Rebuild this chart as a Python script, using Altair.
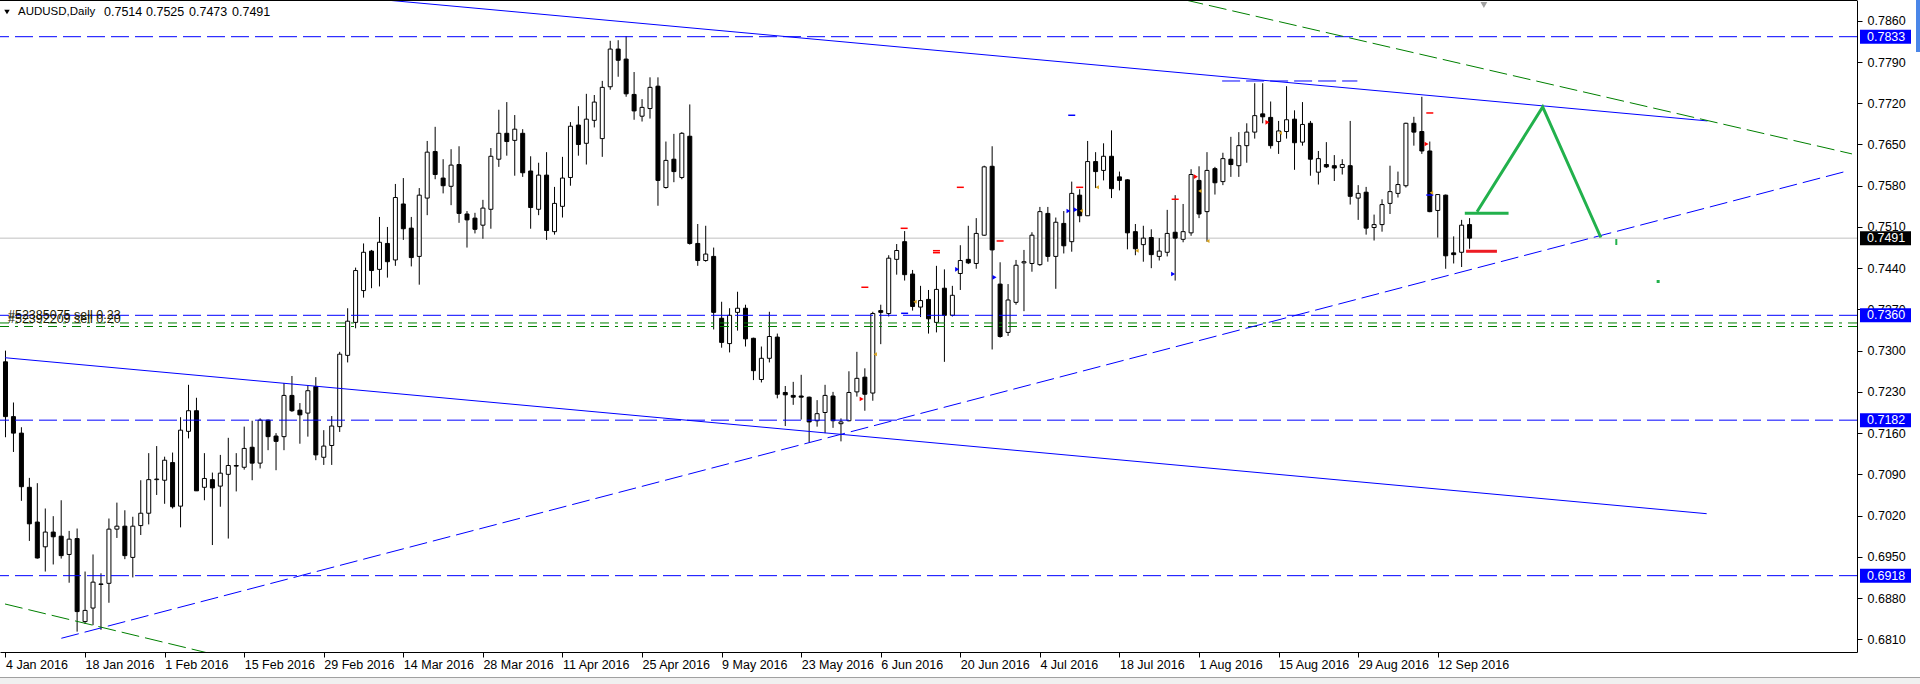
import altair as alt
import pandas as pd

# ---------------- data ----------------
opens = [0.7281,0.7188,0.7160,0.7068,0.7009,0.6967,0.6992,0.6985,0.6954,0.6981,
         0.6840,0.6863,0.6903,0.6905,0.6997,0.7002,0.6949,0.7003,0.7024,0.7081,
         0.7080,0.7110,0.7036,0.7163,0.7198,0.7068,0.7081,0.7070,0.7090,0.7105,
         0.7102,0.7136,0.7109,0.7182,0.7155,0.7154,0.7224,0.7199,0.7194,0.7239,
         0.7119,0.7139,0.7171,0.7292,0.7348,0.7402,0.7469,0.7438,0.7482,0.7454,
         0.7549,0.7508,0.7460,0.7559,0.7638,0.7593,0.7579,0.7616,0.7532,0.7525,
         0.7513,0.7540,0.7625,0.7669,0.7657,0.7669,0.7605,0.7540,0.7598,0.7502,
         0.7545,0.7594,0.7683,0.7652,0.7691,0.7660,0.7748,0.7812,0.7795,0.7735,
         0.7698,0.7711,0.7749,0.7577,0.7625,0.7594,0.7664,0.7482,0.7453,0.7460,
         0.7355,0.7312,0.7365,0.7372,0.7321,0.7251,0.7287,0.7323,0.7229,0.7224,
         0.7223,0.7221,0.7181,0.7195,0.7223,0.7176,0.7181,0.7230,0.7255,0.7228,
         0.7368,0.7363,0.7455,0.7485,0.7430,0.7374,0.7387,0.7348,0.7406,0.7360,
         0.7431,0.7455,0.7448,0.7496,0.7613,0.7413,0.7331,0.7382,0.7449,0.7448,
         0.7446,0.7533,0.7460,0.7516,0.7485,0.7564,0.7529,0.7621,0.7606,0.7630,
         0.7595,0.7590,0.7502,0.7480,0.7492,0.7460,0.7467,0.7501,0.7489,0.7500,
         0.7589,0.7536,0.7609,0.7587,0.7625,0.7614,0.7648,0.7671,0.7702,0.7696,
         0.7655,0.7672,0.7693,0.7654,0.7686,0.7603,0.7616,0.7614,0.7611,0.7614,
         0.7559,0.7569,0.7509,0.7514,0.7550,0.7567,0.7580,0.7686,0.7672,0.7639,
         0.7538,0.7564,0.7466,0.7467,0.7514]
highs = [0.7300,0.7212,0.7170,0.7084,0.7075,0.7032,0.7019,0.7046,0.6994,0.6998,
         0.6925,0.6954,0.6922,0.7015,0.7042,0.7029,0.7018,0.7080,0.7126,0.7138,
         0.7120,0.7127,0.7187,0.7242,0.7220,0.7126,0.7093,0.7123,0.7152,0.7126,
         0.7171,0.7181,0.7185,0.7183,0.7160,0.7245,0.7257,0.7211,0.7241,0.7255,
         0.7165,0.7189,0.7298,0.7372,0.7441,0.7482,0.7471,0.7527,0.7510,0.7583,
         0.7593,0.7527,0.7576,0.7656,0.7680,0.7625,0.7642,0.7647,0.7537,0.7534,
         0.7556,0.7644,0.7709,0.7722,0.7700,0.7676,0.7630,0.7619,0.7637,0.7578,
         0.7629,0.7688,0.7715,0.7736,0.7734,0.7758,0.7826,0.7827,0.7834,0.7773,
         0.7727,0.7764,0.7764,0.7655,0.7668,0.7671,0.7718,0.7515,0.7512,0.7475,
         0.7383,0.7372,0.7400,0.7378,0.7322,0.7307,0.7366,0.7329,0.7240,0.7247,
         0.7259,0.7222,0.7216,0.7242,0.7230,0.7185,0.7265,0.7298,0.7270,0.7366,
         0.7378,0.7462,0.7481,0.7503,0.7437,0.7410,0.7403,0.7444,0.7438,0.7410,
         0.7479,0.7512,0.7525,0.7614,0.7647,0.7450,0.7413,0.7454,0.7471,0.7501,
         0.7544,0.7544,0.7526,0.7537,0.7587,0.7574,0.7656,0.7637,0.7652,0.7674,
         0.7604,0.7591,0.7515,0.7512,0.7506,0.7491,0.7539,0.7564,0.7549,0.7608,
         0.7613,0.7637,0.7612,0.7636,0.7663,0.7671,0.7686,0.7754,0.7754,0.7723,
         0.7690,0.7749,0.7708,0.7722,0.7690,0.7639,0.7654,0.7632,0.7625,0.7690,
         0.7581,0.7578,0.7531,0.7557,0.7614,0.7604,0.7687,0.7697,0.7731,0.7655,
         0.7565,0.7565,0.7494,0.7522,0.7525]
lows = [0.7153,0.7128,0.7045,0.6977,0.6947,0.6925,0.6937,0.6947,0.6906,0.6823,
        0.6836,0.6834,0.6826,0.6872,0.6982,0.6946,0.6915,0.6987,0.7005,0.7055,
        0.7040,0.7032,0.7000,0.7151,0.7062,0.7046,0.6970,0.7035,0.6981,0.7061,
        0.7098,0.7080,0.7100,0.7131,0.7097,0.7131,0.7196,0.7142,0.7154,0.7114,
        0.7106,0.7106,0.7162,0.7280,0.7338,0.7390,0.7406,0.7409,0.7424,0.7444,
        0.7488,0.7443,0.7412,0.7530,0.7591,0.7567,0.7547,0.7517,0.7475,0.7499,
        0.7490,0.7507,0.7612,0.7631,0.7597,0.7595,0.7507,0.7530,0.7488,0.7497,
        0.7526,0.7580,0.7631,0.7616,0.7679,0.7629,0.7743,0.7765,0.7731,0.7692,
        0.7689,0.7694,0.7546,0.7575,0.7586,0.7591,0.7480,0.7444,0.7451,0.7336,
        0.7305,0.7297,0.7334,0.7307,0.7250,0.7246,0.7280,0.7219,0.7172,0.7208,
        0.7183,0.7144,0.7171,0.7160,0.7169,0.7146,0.7180,0.7222,0.7198,0.7215,
        0.7311,0.7358,0.7429,0.7419,0.7368,0.7357,0.7329,0.7331,0.7281,0.7358,
        0.7403,0.7447,0.7439,0.7495,0.7302,0.7322,0.7325,0.7378,0.7367,0.7434,
        0.7444,0.7451,0.7405,0.7465,0.7468,0.7518,0.7529,0.7576,0.7589,0.7559,
        0.7572,0.7472,0.7462,0.7451,0.7440,0.7453,0.7460,0.7419,0.7484,0.7495,
        0.7525,0.7485,0.7565,0.7581,0.7595,0.7595,0.7619,0.7660,0.7686,0.7643,
        0.7634,0.7660,0.7607,0.7648,0.7597,0.7582,0.7610,0.7588,0.7599,0.7548,
        0.7522,0.7497,0.7487,0.7502,0.7532,0.7560,0.7577,0.7648,0.7634,0.7535,
        0.7492,0.7439,0.7448,0.7442,0.7473]
closes = [0.7188,0.7160,0.7069,0.7006,0.6948,0.6992,0.6984,0.6952,0.6980,0.6857,
          0.6859,0.6907,0.6904,0.6997,0.7002,0.6952,0.7002,0.7024,0.7081,0.7082,
          0.7114,0.7035,0.7165,0.7198,0.7062,0.7083,0.7067,0.7092,0.7105,0.7104,
          0.7134,0.7109,0.7182,0.7154,0.7146,0.7224,0.7198,0.7191,0.7232,0.7123,
          0.7138,0.7172,0.7294,0.7350,0.7436,0.7467,0.7436,0.7484,0.7451,0.7560,
          0.7507,0.7458,0.7564,0.7637,0.7599,0.7580,0.7615,0.7533,0.7522,0.7506,
          0.7542,0.7630,0.7669,0.7655,0.7676,0.7602,0.7543,0.7598,0.7504,0.7550,
          0.7593,0.7681,0.7650,0.7693,0.7722,0.7747,0.7812,0.7793,0.7736,0.7707,
          0.7713,0.7747,0.7589,0.7623,0.7604,0.7669,0.7482,0.7453,0.7464,0.7365,
          0.7314,0.7360,0.7372,0.7320,0.7266,0.7287,0.7324,0.7226,0.7225,0.7221,
          0.7221,0.7179,0.7193,0.7224,0.7181,0.7179,0.7229,0.7253,0.7226,0.7363,
          0.7365,0.7457,0.7470,0.7429,0.7375,0.7385,0.7354,0.7404,0.7360,0.7394,
          0.7453,0.7449,0.7499,0.7612,0.7471,0.7324,0.7386,0.7445,0.7451,0.7496,
          0.7536,0.7460,0.7518,0.7478,0.7567,0.7529,0.7621,0.7604,0.7630,0.7575,
          0.7589,0.7500,0.7473,0.7491,0.7463,0.7469,0.7499,0.7491,0.7502,0.7599,
          0.7532,0.7606,0.7585,0.7626,0.7616,0.7648,0.7671,0.7699,0.7697,0.7648,
          0.7673,0.7692,0.7653,0.7684,0.7625,0.7626,0.7612,0.7610,0.7616,0.7562,
          0.7567,0.7508,0.7514,0.7548,0.7570,0.7582,0.7686,0.7671,0.7639,0.7536,
          0.7565,0.7461,0.7463,0.7513,0.7491]

tick_bars = list(range(0, 181, 10))
tick_labels = ["4 Jan 2016", "18 Jan 2016", "1 Feb 2016", "15 Feb 2016", "29 Feb 2016",
               "14 Mar 2016", "28 Mar 2016", "11 Apr 2016", "25 Apr 2016", "9 May 2016",
               "23 May 2016", "6 Jun 2016", "20 Jun 2016", "4 Jul 2016", "18 Jul 2016",
               "1 Aug 2016", "15 Aug 2016", "29 Aug 2016", "12 Sep 2016"]
price_ticks = [0.6810, 0.6880, 0.6950, 0.7020, 0.7090, 0.7160, 0.7230, 0.7300,
               0.7370, 0.7440, 0.7510, 0.7580, 0.7650, 0.7720, 0.7790, 0.7860]

level_prices = [0.7833, 0.7360, 0.7182, 0.6918]
bid_price = 0.7491
order_prices = [0.7347, 0.7341]
order_texts = ["#52385075 sell 0.23", "#52392209 sell 0.20"]
header_symbol = "AUDUSD,Daily"
header_values = [0.7514, 0.7525, 0.7473, 0.7491]

# trend lines: (bar, price) end points
upper_line_bars, upper_line_prices = [47.8, 213.9], [0.78953, 0.76900]
lower_line_bars, lower_line_prices = [-0.0625, 213.8], [0.72880, 0.70232]
rise_line_bars, rise_line_prices = [7.02, 231.14], [0.68117, 0.76038]
green_top_bars, green_top_prices = [148.3, 232.06], [0.78953, 0.76340]
green_low_bars, green_low_prices = [-0.0625, 30.0], [0.68699, 0.67719]
short_dash_bars, short_dash_prices = [152.9, 169.9], [0.77578, 0.77578]
zigzag_bars, zigzag_prices = [184.94, 193.19, 200.5], [0.75359, 0.77137, 0.74921]
green_flat_bars, green_flat_prices = [183.4, 188.9], [0.75332, 0.75332]
red_flat_bars, red_flat_prices = [183.56, 187.44], [0.74687, 0.74687]
green_tick_bar, green_tick_prices = [202.44, 202.44], [0.74895, 0.74794]
green_dot_bar, green_dot_price = [207.7], [0.74174]
shift_bar = [185.8]

red_dash_bars = [120.0, 112.94, 125.0, 117.0, 117.0, 108.0, 135.0, 147.0, 179.0]
red_dash_prices = [0.75773, 0.75077, 0.74862, 0.74697, 0.74663, 0.74076, 0.75773, 0.75570, 0.77035]
blue_dash_bars = [113.0, 134.0, 179.0]
blue_dash_prices = [0.73634, 0.76996, 0.75642]
blue_arrow_bars = [124.3, 133.6, 134.5, 146.75, 119.6]
blue_arrow_prices = [0.74245, 0.75371, 0.75393, 0.74301, 0.74381]
red_arrow_bars = [149.6, 178.6, 158.6, 107.6]
red_arrow_prices = [0.75953, 0.76508, 0.76877, 0.72179]
gold_bars = [137.2, 135.2, 142.2, 151.1, 150.1, 160.2, 114.3, 109.3, 179.2]
gold_prices = [0.75773, 0.75376, 0.74697, 0.74862, 0.75710, 0.76695, 0.73831, 0.72938, 0.75680]

# ---------------- layout ----------------
W, H = 1857, 652
X0, X1 = -0.0625, 232.0625
Y0, Y1 = 0.67884, 0.78953
FONT = "Liberation Sans"
AXFS = 12.5
BLUE = "#0000FF"

xs = alt.Scale(domain=[X0, X1], nice=False, zero=False)
ys = alt.Scale(domain=[Y0, Y1], nice=False, zero=False)

label_js = "[" + ",".join("'" + s + "'" for s in tick_labels) + "]"
x_axis = alt.Axis(values=tick_bars, labelExpr=label_js + "[round(datum.value/10)]",
                  orient="bottom", tickSize=5, tickColor="black", domainColor="black",
                  labelColor="black", labelFont=FONT, labelFontSize=AXFS, labelAlign="left",
                  labelPadding=1, labelFlush=False, labelOverlap=False,
                  labelBound=False, grid=False, title=None)
y_axis = alt.Axis(values=price_ticks, format=".4f", orient="right", tickSize=5,
                  tickColor="black", domainColor="black", labelColor="black",
                  labelFont=FONT, labelFontSize=AXFS, labelPadding=5, labelOverlap=False,
                  labelFlush=False, grid=False, title=None)


def X(f):
    return alt.X(f, type="quantitative", scale=xs, axis=x_axis)


def Y(f):
    return alt.Y(f, type="quantitative", scale=ys, axis=y_axis)


def line_df(bars, prices):
    return pd.DataFrame({"bar": bars, "price": prices, "k": list(range(len(bars)))})


def line_layer(bars, prices, color, width=1, dash=None):
    kw = dict(color=color, strokeWidth=width, clip=True, strokeCap="butt")
    if dash:
        kw["strokeDash"] = dash
    return alt.Chart(line_df(bars, prices)).mark_line(**kw).encode(
        x=X("bar"), y=Y("price"), order="k:Q")


candles = pd.DataFrame({"i": list(range(len(opens))), "o": opens, "h": highs,
                        "l": lows, "c": closes})

bid_layer = alt.Chart(pd.DataFrame({"p": [bid_price]})).mark_rule(
    color="#C0C0C0", strokeWidth=1).encode(y=Y("p"))

wicks = alt.Chart(candles).mark_rule(color="black", strokeWidth=1).encode(
    x=X("i"), y=Y("l"), y2="h:Q")
bodies = alt.Chart(candles).mark_bar(size=4, stroke="black", strokeWidth=1).encode(
    x=X("i"), y=Y("o"), y2="c:Q",
    fill=alt.condition("datum.c >= datum.o", alt.value("white"), alt.value("black")))

levels = alt.Chart(pd.DataFrame({"p": level_prices})).mark_rule(
    color=BLUE, strokeWidth=1, strokeDash=[18, 6]).encode(y=Y("p"))
orders = alt.Chart(pd.DataFrame({"p": order_prices})).mark_rule(
    color="#008000", strokeWidth=1, strokeDash=[9, 6, 3, 6]).encode(y=Y("p"))
order_text = alt.Chart(pd.DataFrame({"p": order_prices, "t": order_texts})).mark_text(
    align="left", baseline="bottom", dy=-1, font=FONT, fontSize=12.5, color="#1a1a00").encode(
    x=alt.value(8), y=Y("p"), text="t:N")

lines = [
    line_layer(upper_line_bars, upper_line_prices, BLUE),
    line_layer(lower_line_bars, lower_line_prices, BLUE),
    line_layer(rise_line_bars, rise_line_prices, BLUE, 1, [18, 6]),
    line_layer(short_dash_bars, short_dash_prices, BLUE, 1, [18, 6]),
    line_layer(green_top_bars, green_top_prices, "#008000", 1, [18, 6]),
    line_layer(green_low_bars, green_low_prices, "#008000", 1, [18, 6]),
    line_layer(zigzag_bars, zigzag_prices, "#22B14C", 3),
    line_layer(green_flat_bars, green_flat_prices, "#22B14C", 3),
    line_layer(red_flat_bars, red_flat_prices, "#ED1C24", 3),
    line_layer(green_tick_bar, green_tick_prices, "#22B14C", 2),
]

green_dot = alt.Chart(pd.DataFrame({"bar": green_dot_bar, "price": green_dot_price})).mark_square(
    size=9, color="#22B14C", opacity=1).encode(x=X("bar"), y=Y("price"))

red_dashes = alt.Chart(pd.DataFrame({"bar": red_dash_bars, "price": red_dash_prices})).mark_tick(
    orient="horizontal", size=7, thickness=1.5, color="red", opacity=1).encode(x=X("bar"), y=Y("price"))
blue_dashes = alt.Chart(pd.DataFrame({"bar": blue_dash_bars, "price": blue_dash_prices})).mark_tick(
    orient="horizontal", size=7, thickness=1.5, color=BLUE, opacity=1).encode(x=X("bar"), y=Y("price"))
blue_arrows = alt.Chart(pd.DataFrame({"bar": blue_arrow_bars, "price": blue_arrow_prices})).mark_point(
    shape="triangle-right", filled=True, size=22, color=BLUE, opacity=1).encode(x=X("bar"), y=Y("price"))
red_arrows = alt.Chart(pd.DataFrame({"bar": red_arrow_bars, "price": red_arrow_prices})).mark_point(
    shape="triangle-right", filled=True, size=22, color="red", opacity=1).encode(x=X("bar"), y=Y("price"))
gold_marks = alt.Chart(pd.DataFrame({"bar": gold_bars, "price": gold_prices})).mark_point(
    shape="triangle-left", filled=True, size=16, color="#DAA520", opacity=1).encode(x=X("bar"), y=Y("price"))

shift_mark = alt.Chart(pd.DataFrame({"bar": shift_bar})).mark_point(
    shape="triangle-down", filled=True, size=45, color="#A0A0A0", opacity=1).encode(
    x=X("bar"), y=alt.value(5))

# price labels on the axis
half = 7 * (Y1 - Y0) / H
box_prices = level_prices + [bid_price]
boxes = pd.DataFrame({"p": box_prices,
                      "top": [p + half for p in box_prices],
                      "bot": [p - half for p in box_prices],
                      "col": [BLUE] * len(level_prices) + ["black"],
                      "t": ["%.4f" % p for p in box_prices]})
box_rects = alt.Chart(boxes).mark_rect().encode(
    x=alt.value(W + 3), x2=alt.value(W + 54), y=Y("top"), y2="bot:Q",
    color=alt.Color("col:N", scale=None))
box_texts = alt.Chart(boxes).mark_text(align="left", baseline="middle", font=FONT,
                                       fontSize=AXFS, color="white").encode(
    x=alt.value(W + 10), y=Y("p"), text="t:N")

# header: symbol then the four OHLC values
header_sym = alt.Chart(pd.DataFrame({"t": [header_symbol]})).mark_text(
    align="left", baseline="middle", font=FONT, fontSize=11.5, color="black").encode(
    x=alt.value(18), y=alt.value(12), text="t:N")
header_df = pd.DataFrame({"t": ["%.4f" % v for v in header_values],
                          "px": [104, 146, 189, 232]})
header_vals = alt.Chart(header_df).mark_text(
    align="left", baseline="middle", font=FONT, fontSize=12.5, color="black").encode(
    x=alt.X("px:Q", scale=None), y=alt.value(12), text="t:N")

# frame pieces
one = pd.DataFrame({"a": [0]})
top_border = alt.Chart(one).mark_rule(color="black", strokeWidth=1).encode(
    x=alt.value(0), x2=alt.value(W), y=alt.value(0.5))
header_tri = alt.Chart(one).mark_point(shape="triangle-down", filled=True, size=30,
                                       color="black", opacity=1).encode(
    x=alt.value(7), y=alt.value(12))
bottom_strip = alt.Chart(one).mark_rect(color="#F0F0F0").encode(
    x=alt.value(0), x2=alt.value(1920), y=alt.value(677), y2=alt.value(684))
bottom_line = alt.Chart(one).mark_rule(color="#A0A0A0", strokeWidth=1).encode(
    x=alt.value(0), x2=alt.value(1920), y=alt.value(677.5))
right_strip = alt.Chart(one).mark_rect(color="#4A86E8").encode(
    x=alt.value(1916), x2=alt.value(1920), y=alt.value(0), y2=alt.value(52))

chart = alt.layer(
    bid_layer, wicks, bodies, levels, orders, *lines, green_dot,
    red_dashes, blue_dashes, blue_arrows, red_arrows, gold_marks, shift_mark,
    order_text, box_rects, box_texts, top_border, header_sym, header_vals, header_tri,
    bottom_strip, bottom_line, right_strip
).properties(
    width=W, height=H,
    autosize=alt.AutoSizeParams(type="none"),
    padding={"left": 0, "top": 0, "right": 1920 - W, "bottom": 684 - H},
    background="white"
).configure_view(stroke=None)

chart.save("out.html", embed_options={"renderer": "svg", "actions": False})
